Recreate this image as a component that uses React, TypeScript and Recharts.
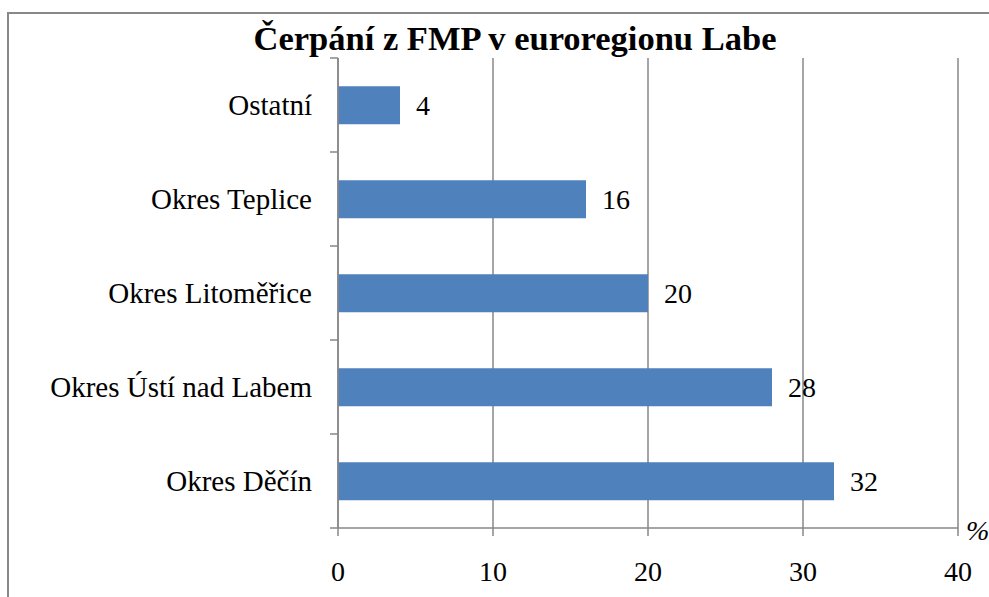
import React from 'react';
import { BarChart, Bar, XAxis, YAxis, CartesianGrid, LabelList } from 'recharts';

const categories = ['Ostatní', 'Okres Teplice', 'Okres Litoměřice', 'Okres Ústí nad Labem', 'Okres Děčín'];
const values = [4, 16, 20, 28, 32];
const xTicks = [0, 10, 20, 30, 40];
const title = 'Čerpání z FMP v euroregionu Labe';
const unit = '%';

const data = categories.map((name, i) => ({ name, value: values[i] }));

const FONT = '"Liberation Serif", "Times New Roman", serif';
const AXIS = '#878787';

const YTick = (props: any) => {
  const { x, y, payload, index } = props;
  const off = payload && typeof payload.offset === 'number' ? payload.offset : 0;
  const axisX = x + 26;
  return (
    <g>
      <text x={x} y={y} dy="0.35em" textAnchor="end" fontFamily={FONT} fontSize={29} fill="#000">
        {payload.value}
      </text>
      <line x1={axisX - 8} x2={axisX} y1={y + off} y2={y + off} stroke={AXIS} strokeWidth={1.5} />
      {index === 0 ? (
        <line x1={axisX - 8} x2={axisX} y1={y - off} y2={y - off} stroke={AXIS} strokeWidth={1.5} />
      ) : null}
    </g>
  );
};

export default function App() {
  return (
    <div style={{ position: 'absolute', left: 0, top: 0, width: 989, height: 597, overflow: 'hidden', background: '#fff' }}>
      <div
        style={{
          position: 'absolute',
          left: 7,
          top: 12,
          width: 1100,
          height: 800,
          border: '2px solid #888',
          boxSizing: 'border-box',
        }}
      />
      <div
        style={{
          position: 'absolute',
          left: 0,
          width: 1030,
          top: 18,
          textAlign: 'center',
          fontFamily: FONT,
          fontWeight: 'bold',
          fontSize: 34.5,
          lineHeight: '40px',
          color: '#000',
          whiteSpace: 'nowrap',
        }}
      >
        {title}
      </div>
      <div
        style={{
          position: 'absolute',
          left: 966,
          top: 515,
          fontFamily: FONT,
          fontStyle: 'italic',
          fontSize: 28,
          lineHeight: '32px',
          color: '#000',
        }}
      >
        {unit}
      </div>
      <div style={{ position: 'absolute', left: 0, top: 0 }}>
        <BarChart
          width={989}
          height={597}
          data={data}
          layout="vertical"
          margin={{ top: 58, right: 31, bottom: 0, left: 0 }}
          barCategoryGap="30%"
        >
          <CartesianGrid horizontal={false} vertical stroke={AXIS} strokeWidth={1.5} />
          <XAxis
            type="number"
            domain={[0, 40]}
            ticks={xTicks}
            interval={0}
            height={69}
            tickSize={8}
            tickMargin={25}
            axisLine={{ stroke: AXIS, strokeWidth: 1.5 }}
            tickLine={{ stroke: AXIS, strokeWidth: 1.5 }}
            tick={{ fontFamily: FONT, fontSize: 28, fill: '#000' }}
          />
          <YAxis
            type="category"
            dataKey="name"
            width={338}
            tickSize={8}
            tickMargin={18}
            interval={0}
            axisLine={{ stroke: AXIS, strokeWidth: 1.5 }}
            tickLine={false}
            tick={<YTick />}
          />
          <Bar dataKey="value" fill="#4F81BD" isAnimationActive={false}>
            <LabelList
              dataKey="value"
              position="right"
              offset={16}
              fontFamily={FONT}
              fontSize={28}
              fill="#000"
            />
          </Bar>
        </BarChart>
      </div>
    </div>
  );
}
